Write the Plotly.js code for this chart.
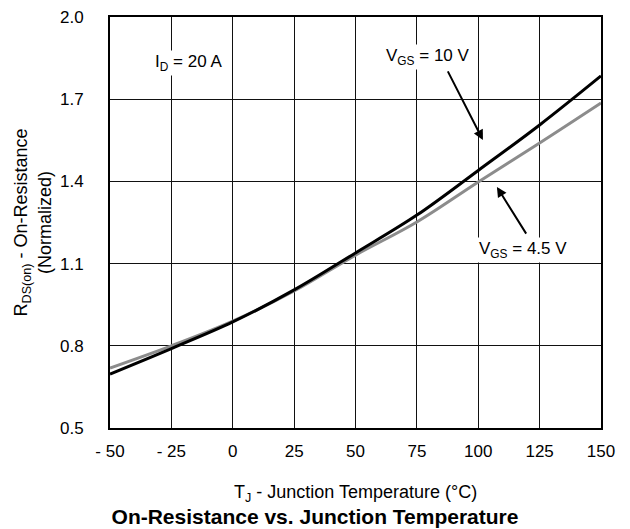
<!DOCTYPE html>
<html>
<head>
<meta charset="utf-8">
<script src="https://cdn.plot.ly/plotly-3.0.1.min.js"></script>
<style>html,body{margin:0;padding:0;background:#fff}#chart{width:630px;height:529px}</style>
</head>
<body>
<div id="chart"></div>
<script>
const temperature = [-50, -25, 0, 25, 50, 75, 100, 125, 150];
const rdsVgs10 = [0.697, 0.79, 0.887, 1.004, 1.139, 1.277, 1.44, 1.606, 1.785];
const rdsVgs45 = [0.719, 0.80, 0.89, 1.0, 1.131, 1.252, 1.398, 1.54, 1.686];
const xTickVals = [-50, -25, 0, 25, 50, 75, 100, 125, 150];
const xTickText = ['- 50', '- 25', '0', '25', '50', '75', '100', '125', '150'];
const yTickVals = [0.5, 0.8, 1.1, 1.4, 1.7, 2.0];
const yTickText = ['0.5', '0.8', '1.1', '1.4', '1.7', '2.0'];

const font = 'Liberation Sans, Arial, Helvetica, sans-serif';

const traces = [
  {x: temperature, y: rdsVgs45, mode: 'lines', line: {color: '#8c8c8c', width: 3, shape: 'spline'}, name: 'VGS = 4.5 V', hoverinfo: 'skip'},
  {x: temperature, y: rdsVgs10, mode: 'lines', line: {color: '#000', width: 3, shape: 'spline'}, name: 'VGS = 10 V', hoverinfo: 'skip'}
];

const layout = {
  width: 630, height: 529,
  margin: {l: 110, r: 29, t: 17, b: 101},
  paper_bgcolor: '#fff', plot_bgcolor: '#fff',
  showlegend: false,
  font: {family: font, size: 17, color: '#000'},
  title: {text: '<b>On-Resistance vs. Junction Temperature</b>', font: {family: font, size: 21, color: '#000'},
          x: 0.5, xanchor: 'center', y: 0.0227, yanchor: 'middle', yref: 'container'},
  xaxis: {
    range: [-50, 150], tickvals: xTickVals, ticktext: xTickText,
    showgrid: true, gridcolor: '#111', gridwidth: 1,
    showline: true, linecolor: '#000', linewidth: 2, mirror: true,
    ticks: '', ticklabelstandoff: 7, zeroline: false,
    tickfont: {family: font, size: 17},
    title: {text: 'T<sub>J</sub> - Junction Temperature (°C)', font: {family: font, size: 18}, standoff: 25}
  },
  yaxis: {
    range: [0.5, 2.0], tickvals: yTickVals, ticktext: yTickText,
    showgrid: true, gridcolor: '#111', gridwidth: 1,
    showline: true, linecolor: '#000', linewidth: 2, mirror: true,
    ticks: '', ticklabelstandoff: 21, zeroline: false,
    tickfont: {family: font, size: 17},
    title: {text: 'R<sub>DS(on)</sub> - On-Resistance<br>(Normalized)', font: {family: font, size: 18}, standoff: 4}
  },
  annotations: [
    {x: -18.2, y: 1.832, xref: 'x', yref: 'y', text: 'I<sub>D</sub> = 20 A', showarrow: false,
     bgcolor: '#fff', font: {family: font, size: 17}},
    {x: 79.5, y: 1.854, xref: 'x', yref: 'y', text: 'V<sub>GS</sub> = 10 V', showarrow: false,
     bgcolor: '#fff', font: {family: font, size: 17}},
    {x: 118.2, y: 1.15, xref: 'x', yref: 'y', text: 'V<sub>GS</sub> = 4.5 V', showarrow: false,
     bgcolor: '#fff', font: {family: font, size: 17}},
    {x: 101.9, y: 1.551, ax: 87.3, ay: 1.807, xref: 'x', yref: 'y', axref: 'x', ayref: 'y', text: '',
     showarrow: true, arrowhead: 2, arrowsize: 1, arrowwidth: 2, arrowcolor: '#000'},
    {x: 107.6, y: 1.380, ax: 119.9, ay: 1.204, xref: 'x', yref: 'y', axref: 'x', ayref: 'y', text: '',
     showarrow: true, arrowhead: 2, arrowsize: 1, arrowwidth: 2, arrowcolor: '#000'}
  ]
};

Plotly.newPlot('chart', traces, layout, {displayModeBar: false, staticPlot: true});
</script>
</body>
</html>
